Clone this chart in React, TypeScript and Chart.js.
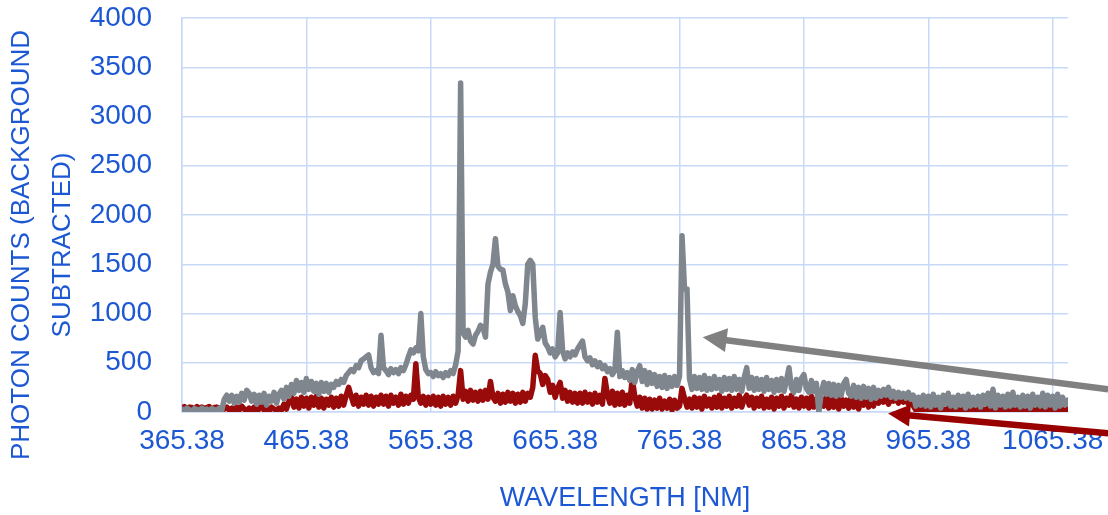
import React, { useEffect, useRef } from 'react';
import { Chart, registerables } from 'chart.js';

Chart.register(...registerables);

// Sample grid of the spectrometer (nm)
const WAVELENGTH_START = 365.38;
const WAVELENGTH_STEP = 2;

// Grey series (photon counts, background subtracted), one row = 40 nm
const GREY_COUNTS = [
  30, 15, 40, 20, 10, 35, 25, 15, 40, 20, 30, 10, 35, 25, 15, 40, 20, 130, 170, 110,
  170, 90, 160, 100, 190, 120, 220, 190, 110, 180, 80, 170, 100, 190, 70, 160, 110, 200, 90, 180,
  220, 130, 250, 160, 280, 190, 320, 220, 300, 200, 340, 230, 310, 210, 290, 180, 300, 210, 290, 200,
  280, 250, 310, 280, 330, 300, 370, 400, 430, 410, 470, 450, 520, 540, 560, 580, 450, 400, 420, 390,
  780, 450, 420, 380, 440, 400, 430, 390, 450, 420, 480, 560, 630, 600, 650, 620, 1000, 560, 430, 390,
  400, 360, 410, 370, 390, 350, 400, 370, 420, 390, 480, 620, 3340, 800, 760, 830, 720, 690, 780, 820,
  880, 860, 760, 1300, 1420, 1500, 1760, 1480, 1450, 1440, 1300, 1220, 1030, 1180, 1080, 1020, 980, 900, 1100, 1500,
  1540, 1500, 960, 740, 800, 860, 700, 660, 600, 640, 560, 600, 1010, 620, 540, 600, 560, 610, 580, 640,
  680, 720, 560, 520, 550, 480, 520, 460, 500, 440, 470, 410, 440, 380, 420, 810, 360, 420, 350, 400,
  320, 430, 300, 410, 470, 310, 420, 280, 400, 290, 380, 260, 360, 250, 370, 240, 350, 260, 360, 270,
  360, 1790, 1250, 1250, 340, 230, 360, 240, 350, 230, 370, 220, 340, 230, 360, 240, 330, 210, 350, 230,
  340, 220, 360, 230, 330, 210, 350, 450, 240, 350, 220, 340, 230, 330, 210, 350, 230, 320, 200, 330,
  220, 340, 210, 320, 450, 240, 200, 330, 220, 340, 380, 240, 200, 320, 210, 290, 0, 200, 300, 180,
  290, 170, 280, 160, 270, 170, 290, 330, 190, 160, 270, 150, 250, 140, 260, 150, 240, 130, 250, 140,
  220, 160, 230, 170, 250, 150, 210, 140, 200, 150, 190, 140, 200, 130, 170, 60, 150, 70, 170, 60,
  160, 50, 180, 70, 150, 40, 170, 80, 190, 60, 150, 50, 170, 70, 160, 40, 180, 60, 150, 70,
  160, 50, 170, 80, 190, 60, 230, 40, 170, 70, 160, 50, 180, 60, 200, 70, 150, 50, 170, 60,
  160, 40, 180, 70, 150, 60, 190, 50, 170, 70, 160, 40, 180, 60, 150, 70, 120,
];

// Red series, same sample grid
const RED_COUNTS = [
  40, 55, 35, 50, 45, 30, 55, 40, 50, 35, 45, 55, 30, 45, 50, 35, 40, 30, 50, 20,
  40, 10, 50, 20, 60, 30, 10, 40, 20, 50, 10, 30, 60, 20, 40, 10, 50, 30, 20, 40,
  20, 80, 30, 110, 150, 50, 130, 40, 150, 60, 140, 40, 150, 70, 160, 50, 140, 40, 130, 70,
  150, 50, 140, 60, 160, 70, 170, 250, 160, 80, 170, 60, 150, 80, 170, 70, 160, 60, 150, 80,
  170, 80, 160, 60, 170, 90, 150, 70, 180, 80, 160, 90, 170, 130, 490, 150, 90, 160, 70, 150,
  80, 160, 70, 150, 60, 160, 80, 150, 70, 160, 90, 170, 420, 130, 210, 110, 220, 120, 200, 110,
  210, 120, 220, 130, 310, 150, 110, 190, 90, 180, 100, 200, 110, 190, 90, 180, 100, 200, 110, 190,
  150, 250, 575, 420, 390, 280, 370, 330, 200, 270, 150, 240, 300, 140, 220, 110, 200, 100, 190, 90,
  190, 90, 200, 100, 180, 80, 190, 100, 170, 80, 340, 180, 90, 210, 70, 190, 80, 200, 70, 170,
  90, 340, 160, 60, 150, 40, 140, 30, 130, 30, 120, 40, 140, 30, 110, 40, 130, 20, 120, 40,
  60, 240, 140, 50, 130, 40, 150, 50, 140, 30, 160, 60, 130, 40, 150, 50, 170, 40, 140, 60,
  160, 40, 140, 60, 170, 50, 130, 170, 70, 150, 40, 140, 60, 160, 40, 130, 50, 150, 30, 140,
  60, 160, 40, 140, 70, 170, 50, 130, 40, 150, 60, 140, 40, 160, 50, 130, 30, 140, 60, 150,
  40, 130, 50, 150, 30, 140, 60, 120, 40, 150, 50, 130, 30, 140, 70, 160, 50, 150, 60, 170,
  90, 150, 100, 160, 80, 140, 110, 150, 90, 130, 100, 140, 80, 120, 60, 20, 40, 10, 30, 20,
  30, 10, 40, 20, 30, 0, 30, 20, 40, 10, 30, 20, 40, 10, 30, 20, 40, 10, 30, 20,
  40, 10, 30, 20, 40, 10, 30, 20, 40, 10, 30, 20, 40, 10, 30, 20, 40, 10, 30, 20,
  40, 10, 30, 20, 40, 10, 30, 20, 40, 10, 30, 20, 40, 10, 30, 20, 30,
];

const X_TICKS = [365.38, 465.38, 565.38, 665.38, 765.38, 865.38, 965.38, 1065.38];
const X_TICK_LABELS = ['365.38', '465.38', '565.38', '665.38', '765.38', '865.38', '965.38', '1065.38'];
const X_MIN = 365.38;
const X_MAX = 1077.7;
const Y_MIN = 0;
const Y_MAX = 4000;
const Y_STEP = 500;

const X_TITLE = 'WAVELENGTH [NM]';
const Y_TITLE_LINES = ['PHOTON COUNTS (BACKGROUND', 'SUBTRACTED)'];

// Annotation arrows, in data coordinates [nm, counts]
const GREY_ARROW = { tip: [784, 760], tail: [1110, 231] };
const RED_ARROW = { tip: [933, -16], tail: [1110, -216] };

const BLUE = '#1D58D4';
const GRID = '#C7D9F6';
const GREY_LINE = '#7F868D';
const RED_LINE = '#990A0A';
const GREY_ARROW_COLOR = '#808080';
const RED_ARROW_COLOR = '#990000';
const FONT = '"Liberation Sans", Arial, sans-serif';

const toPoints = (vals: number[]) =>
  vals.map((v, i) => ({ x: WAVELENGTH_START + i * WAVELENGTH_STEP, y: v }));

const annotationPlugin = {
  id: 'annotations',
  afterDraw(chart: any) {
    const { ctx, scales } = chart;
    const xs = scales.x;
    const ys = scales.y;
    const drawArrow = (a: any, color: string, width: number, headLen: number, headHalf: number) => {
      const tx = xs.getPixelForValue(a.tip[0]);
      const ty = ys.getPixelForValue(a.tip[1]);
      const sx = xs.getPixelForValue(a.tail[0]);
      const sy = ys.getPixelForValue(a.tail[1]);
      const ang = Math.atan2(ty - sy, tx - sx);
      const bx = tx - Math.cos(ang) * headLen;
      const by = ty - Math.sin(ang) * headLen;
      ctx.save();
      ctx.strokeStyle = color;
      ctx.fillStyle = color;
      ctx.lineWidth = width;
      ctx.beginPath();
      ctx.moveTo(sx, sy);
      ctx.lineTo(bx + Math.cos(ang) * 2, by + Math.sin(ang) * 2);
      ctx.stroke();
      ctx.beginPath();
      ctx.moveTo(tx, ty);
      ctx.lineTo(bx + Math.sin(ang) * headHalf, by - Math.cos(ang) * headHalf);
      ctx.lineTo(bx - Math.sin(ang) * headHalf, by + Math.cos(ang) * headHalf);
      ctx.closePath();
      ctx.fill();
      ctx.restore();
    };
    drawArrow(GREY_ARROW, GREY_ARROW_COLOR, 6.5, 24, 12);
    drawArrow(RED_ARROW, RED_ARROW_COLOR, 6.5, 22, 11);

    // Two-line vertical axis title
    ctx.save();
    ctx.fillStyle = BLUE;
    ctx.font = `26px ${FONT}`;
    ctx.textAlign = 'center';
    ctx.textBaseline = 'middle';
    const cy = 245;
    const lineXs = [22, 63];
    Y_TITLE_LINES.forEach((t, i) => {
      ctx.save();
      ctx.translate(lineXs[i], cy);
      ctx.rotate(-Math.PI / 2);
      ctx.fillText(t, 0, 0);
      ctx.restore();
    });
    ctx.restore();
  },
};

export default function App() {
  const ref = useRef<HTMLCanvasElement>(null);
  useEffect(() => {
    document.body.style.margin = '0';
    const canvas = ref.current;
    if (!canvas) return;
    const chart = new Chart(canvas, {
      type: 'line',
      data: {
        datasets: [
          {
            label: 'Grey',
            data: toPoints(GREY_COUNTS),
            borderColor: GREY_LINE,
            borderWidth: 5.5,
            pointRadius: 0,
            tension: 0,
            borderJoinStyle: 'round',
            borderCapStyle: 'round',
            fill: false,
          },
          {
            label: 'Red',
            data: toPoints(RED_COUNTS),
            borderColor: RED_LINE,
            borderWidth: 5.5,
            pointRadius: 0,
            tension: 0,
            borderJoinStyle: 'round',
            borderCapStyle: 'round',
            fill: false,
          },
        ],
      },
      options: {
        responsive: false,
        animation: false,
        layout: { padding: { top: 18, right: 40, bottom: 0, left: 0 } },
        plugins: {
          legend: { display: false },
          tooltip: { enabled: false },
        },
        scales: {
          x: {
            type: 'linear',
            min: X_MIN,
            max: X_MAX,
            afterBuildTicks: (s: any) => {
              s.ticks = X_TICKS.map((v) => ({ value: v }));
            },
            afterFit: (s: any) => {
              s.height = 103;
            },
            ticks: {
              color: BLUE,
              font: { family: FONT, size: 28 },
              padding: 0,
              maxRotation: 0,
              autoSkip: false,
              callback: (_v: any, i: number) => X_TICK_LABELS[i],
            },
            grid: { color: GRID, lineWidth: 1.5, drawTicks: true, tickLength: 12, tickColor: 'rgba(0,0,0,0)' },
            border: { color: GRID, width: 1.5 },
            title: {
              display: true,
              text: X_TITLE,
              color: BLUE,
              font: { family: FONT, size: 27 },
              padding: { top: 0, bottom: 0 },
            },
          },
          y: {
            min: Y_MIN,
            max: Y_MAX,
            afterFit: (s: any) => {
              s.width = 182;
            },
            ticks: {
              stepSize: Y_STEP,
              color: BLUE,
              font: { family: FONT, size: 28 },
              padding: 0,
              callback: (v: any) => String(v),
            },
            grid: { color: GRID, lineWidth: 1.5, drawTicks: true, tickLength: 30, tickColor: 'rgba(0,0,0,0)' },
            border: { color: GRID, width: 1.5 },
          },
        },
      },
      plugins: [annotationPlugin],
    });
    return () => chart.destroy();
  }, []);
  return (
    <div style={{ width: 1108, height: 515, overflow: 'hidden' }}>
      <canvas ref={ref} width={1108} height={515} style={{ display: 'block' }} />
    </div>
  );
}
